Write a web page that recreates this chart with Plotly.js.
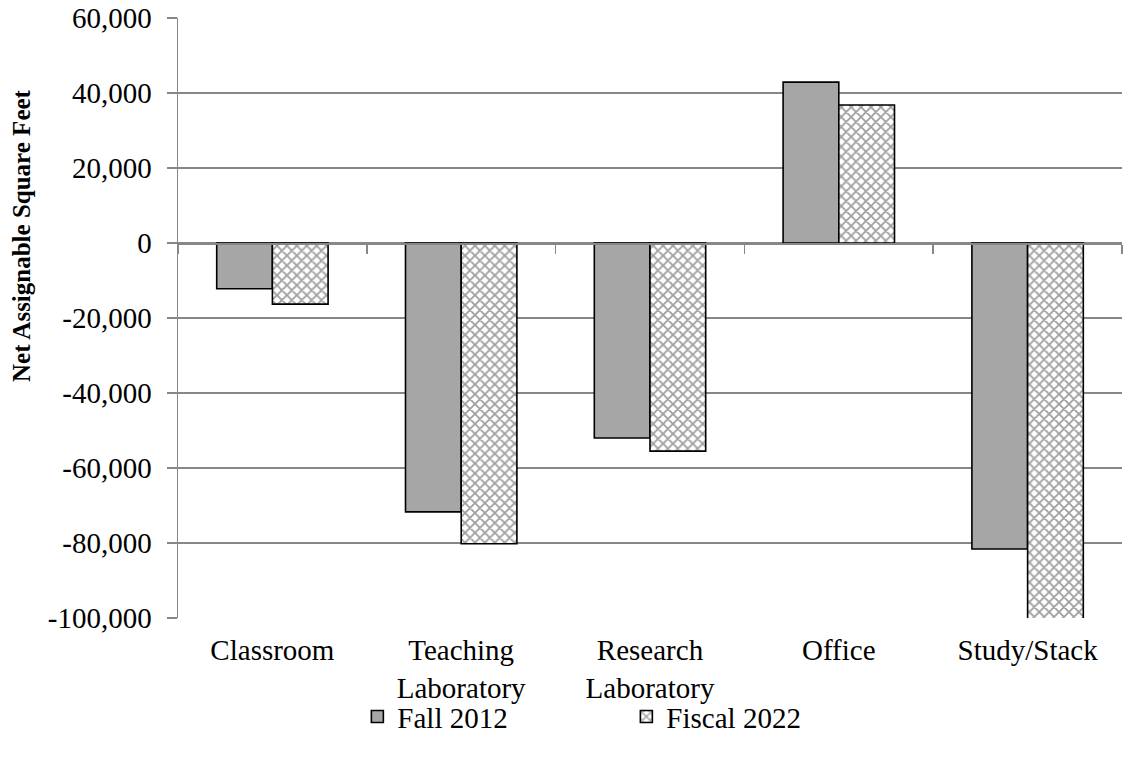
<!DOCTYPE html>
<html>
<head>
<meta charset="utf-8">
<script src="https://cdn.plot.ly/plotly-3.0.1.min.js"></script>
<style>html,body{margin:0;padding:0;background:#fff;}#chart{width:1129px;height:760px;}</style>
</head>
<body>
<div id="chart"></div>
<script>
const categories = ["Classroom", "Teaching<br>Laboratory", "Research<br>Laboratory", "Office", "Study/Stack"];
const fall2012 = [-12200, -71700, -52000, 42900, -81600];
const fiscal2022 = [-16300, -80200, -55500, 36800, -100500];
const yTickVals = [60000, 40000, 20000, 0, -20000, -40000, -60000, -80000, -100000];
const yTickText = ["60,000", "40,000", "20,000", "0", "-20,000", "-40,000", "-60,000", "-80,000", "-100,000"];
const categoryBoundaries = [-0.5, 0.5, 1.5, 2.5, 3.5, 4.5];

const FONT = "Liberation Serif, Times New Roman, serif";
const GRID = "#878787";

const traces = [
  {
    type: "bar", name: "Fall 2012", x: [0,1,2,3,4], y: fall2012, cliponaxis: false,
    marker: {color: "#a6a6a6", line: {color: "#000", width: 1.6}}
  },
  {
    type: "bar", name: "Fiscal 2022", x: [0,1,2,3,4], y: fiscal2022, cliponaxis: false,
    marker: {color: "#ffffff", line: {color: "#000", width: 1.6},
      pattern: {shape: "x", fgcolor: "#a0a0a0", bgcolor: "#ffffff", size: 7, solidity: 0.45, fillmode: "replace"}}
  },
  {
    type: "scatter", mode: "none", x: [], y: [], xaxis: "x2", showlegend: false, hoverinfo: "skip"
  }
];

const layout = {
  width: 1129, height: 760,
  margin: {l: 178, r: 7, t: 18, b: 142},
  paper_bgcolor: "#fff", plot_bgcolor: "#fff",
  font: {family: FONT, size: 29, color: "#000"},
  barmode: "group", bargap: 0.41, bargroupgap: 0,
  showlegend: true,
  legend: {orientation: "h", x: 0.19, xanchor: "left", y: -0.122, yanchor: "top",
    bgcolor: "rgba(0,0,0,0)",
    font: {family: FONT, size: 29}, entrywidth: 224, entrywidthmode: "pixels",
    itemwidth: 30, tracegroupgap: 0},
  xaxis: {
    range: [-0.5, 4.5], tickmode: "array", tickvals: [0,1,2,3,4], ticktext: categories,
    showgrid: false, zeroline: false, showline: false, ticks: "",
    ticklabelstandoff: 12,
    tickfont: {family: FONT, size: 29}
  },
  xaxis2: {
    overlaying: "x", anchor: "free", position: 0.625, range: [-0.5, 4.5],
    tickmode: "array", tickvals: categoryBoundaries,
    showticklabels: false, ticks: "outside", ticklen: 9, tickcolor: GRID, tickwidth: 1.5,
    showline: true, linecolor: GRID, linewidth: 1.5, showgrid: false, zeroline: false
  },
  yaxis: {
    range: [-100000, 60000], tickmode: "array", tickvals: yTickVals, ticktext: yTickText,
    showgrid: true, gridcolor: GRID, gridwidth: 1.5,
    zeroline: true, zerolinecolor: GRID, zerolinewidth: 1.5,
    showline: true, linecolor: GRID, linewidth: 1.5,
    ticks: "outside", ticklen: 10, tickcolor: GRID, tickwidth: 1.5,
    ticklabelstandoff: 9,
    tickfont: {family: FONT, size: 29}
  },
  annotations: [{
    text: "<b>Net Assignable Square Feet</b>", textangle: -90,
    xref: "paper", yref: "paper", x: -(178 - 22) / 944, y: (618 - 236) / 600,
    xanchor: "center", yanchor: "middle", showarrow: false,
    font: {family: FONT, size: 25, color: "#000"}
  }]
};

Plotly.newPlot("chart", traces, layout, {displayModeBar: false, staticPlot: true});
</script>
</body>
</html>
